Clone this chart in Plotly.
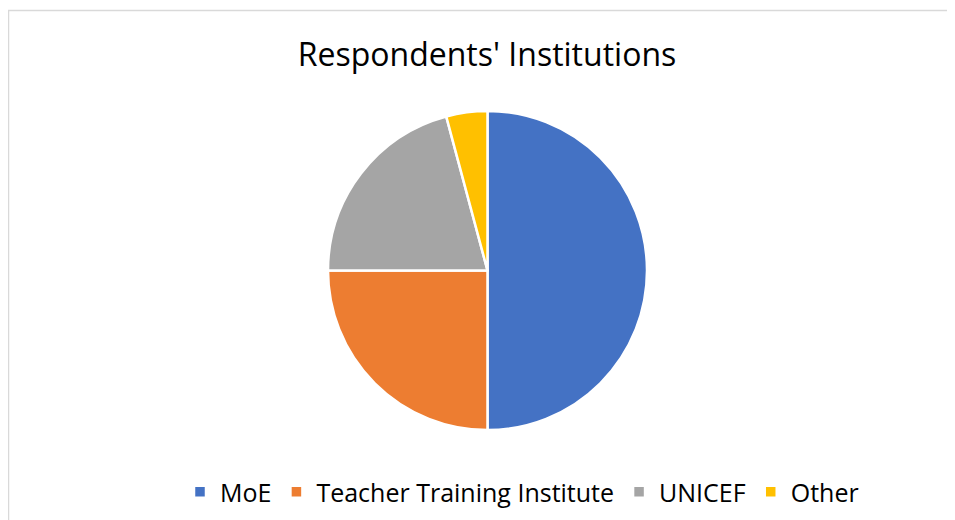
import plotly.graph_objects as go

# data
institutions = ["MoE", "Teacher Training Institute", "UNICEF", "Other"]
respondents = [12, 6, 5, 1]
slice_colors = ["#4472C4", "#ED7D31", "#A5A5A5", "#FFC000"]

W, H = 955, 520
# page body has an 8px margin, so shift target page coords into figure coords
OX, OY = 8, 8


def px_x(x):
    return (x - OX) / W


def px_y(y):
    return 1 - (y - OY) / H


fig = go.Figure(
    go.Pie(
        labels=institutions,
        values=respondents,
        marker=dict(colors=slice_colors, line=dict(color="white", width=2.5)),
        sort=False,
        direction="clockwise",
        rotation=0,
        textinfo="none",
        domain=dict(x=[px_x(328), px_x(647)], y=[px_y(431), px_y(110)]),
    )
)

# light grey chart-area border (right/bottom edges run off the picture)
fig.add_shape(type="rect", xref="paper", yref="paper",
              x0=px_x(8.5), x1=1.05, y0=-0.05, y1=px_y(10.5),
              line=dict(color="#d9d9d9", width=1.5), fillcolor="rgba(0,0,0,0)")

fig.update_layout(
    width=W, height=H,
    margin=dict(l=0, r=0, t=0, b=0),
    paper_bgcolor="white",
    font=dict(family="'Open Sans', sans-serif", color="#000000"),
    title=dict(text="Respondents' Institutions", x=px_x(487), xanchor="center",
               y=px_y(55), yanchor="middle", font=dict(size=32)),
    legend=dict(orientation="h", x=px_x(522), xanchor="center",
                y=px_y(492), yanchor="middle", font=dict(size=25),
                itemwidth=30, traceorder="normal"),
)

fig.write_html("out.html")
